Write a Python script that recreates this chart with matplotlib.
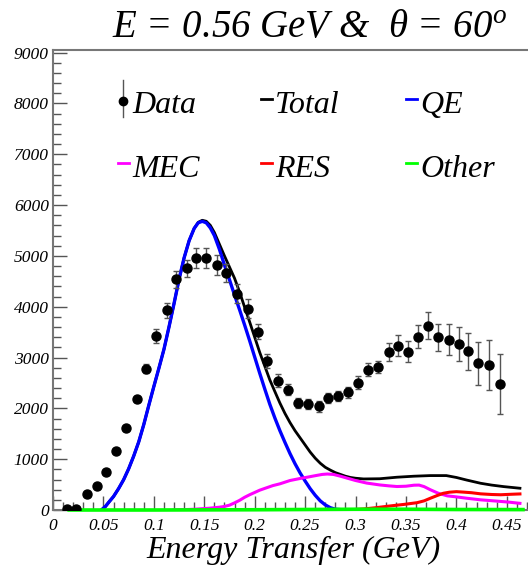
import matplotlib
matplotlib.use("Agg")
import matplotlib.pyplot as plt
from matplotlib.lines import Line2D
import numpy as np

# ---------------- data ----------------
data_x = [0.0136, 0.0228, 0.0334, 0.0434, 0.0526, 0.0625, 0.0724, 0.0830, 0.0923, 0.1020,
          0.1128, 0.1220, 0.1327, 0.1420, 0.1518, 0.1623, 0.1713, 0.1823, 0.1931, 0.2036,
          0.2126, 0.2229, 0.2327, 0.2425, 0.2533, 0.2633, 0.2731, 0.2824, 0.2923, 0.3029,
          0.3124, 0.3227, 0.3330, 0.3425, 0.3522, 0.3621, 0.3717, 0.3822, 0.3925, 0.4024,
          0.4117, 0.4216, 0.4322, 0.4431]
data_y = [20, 20, 310, 470, 750, 1160, 1608, 2180, 2775, 3425,
          3930, 4537, 4753, 4964, 4951, 4819, 4668, 4257, 3964, 3505,
          2926, 2547, 2367, 2104, 2091, 2038, 2203, 2235, 2318, 2505,
          2758, 2815, 3103, 3235, 3110, 3412, 3623, 3399, 3353, 3274,
          3122, 2886, 2854, 2479]
data_err = [10, 12, 25, 30, 35, 45, 50, 60, 89, 145,
            148, 164, 168, 197, 197, 195, 175, 180, 180, 150,
            140, 130, 108, 100, 100, 108, 100, 100, 110, 125,
            130, 120, 180, 200, 207, 230, 263, 263, 300, 335,
            360, 420, 490, 590]

qe_x = [0.048, 0.052, 0.056, 0.060, 0.065, 0.070, 0.075, 0.080, 0.085, 0.090, 0.095, 0.100,
        0.105, 0.110, 0.115, 0.120, 0.125, 0.130, 0.135, 0.140, 0.144, 0.148, 0.152, 0.156,
        0.160, 0.165, 0.170, 0.175, 0.180, 0.185, 0.190, 0.195, 0.200, 0.205, 0.210, 0.215,
        0.220, 0.225, 0.230, 0.235, 0.240, 0.245, 0.250, 0.255, 0.260, 0.265, 0.270, 0.275,
        0.280, 0.290, 0.300, 0.465]
qe_y = [0, 70, 170, 265, 420, 595, 810, 1060, 1340, 1680, 2060, 2430,
        2790, 3160, 3600, 4060, 4540, 4960, 5300, 5540, 5650, 5680, 5650, 5550,
        5400, 5130, 4820, 4530, 4230, 3940, 3640, 3330, 3010, 2690, 2380, 2080,
        1810, 1560, 1330, 1110, 910, 730, 570, 420, 290, 180, 100, 45,
        15, 0, 0, 0]

total_x = [0.048, 0.052, 0.056, 0.060, 0.065, 0.070, 0.075, 0.080, 0.085, 0.090, 0.095, 0.100,
           0.105, 0.110, 0.115, 0.120, 0.125, 0.130, 0.135, 0.140, 0.144, 0.148, 0.152, 0.156,
           0.160, 0.165, 0.170, 0.175, 0.180, 0.185, 0.190, 0.195, 0.200, 0.205, 0.210, 0.215,
           0.220, 0.225, 0.230, 0.235, 0.240, 0.245, 0.250, 0.255, 0.260, 0.265, 0.270, 0.275,
           0.280, 0.285, 0.290, 0.295, 0.300, 0.308, 0.324, 0.341, 0.358, 0.374, 0.390, 0.400,
           0.410, 0.424, 0.435, 0.447, 0.463]
total_y = [0, 70, 170, 265, 420, 595, 810, 1060, 1340, 1680, 2060, 2430,
           2790, 3160, 3600, 4060, 4540, 4960, 5300, 5540, 5660, 5700, 5680, 5600,
           5460, 5230, 5000, 4780, 4560, 4290, 3990, 3700, 3400, 3100, 2830, 2560,
           2330, 2104, 1900, 1720, 1560, 1420, 1280, 1140, 1020, 920, 840, 785,
           735, 700, 665, 640, 625, 611, 615, 645, 665, 677, 677, 640,
           590, 526, 490, 460, 428]

mec_x = [0.120, 0.140, 0.155, 0.165, 0.170, 0.175, 0.180, 0.185, 0.190, 0.195, 0.200, 0.205,
         0.210, 0.218, 0.225, 0.235, 0.245, 0.252, 0.260, 0.267, 0.272, 0.278, 0.285, 0.292,
         0.300, 0.311, 0.324, 0.333, 0.341, 0.350, 0.358, 0.363, 0.368, 0.374, 0.382, 0.391,
         0.400, 0.410, 0.424, 0.440, 0.452, 0.463]
mec_y = [0, 15, 35, 55, 70, 95, 140, 190, 250, 300, 345, 390,
         425, 480, 515, 580, 620, 645, 675, 700, 708, 700, 665, 625,
         580, 530, 493, 475, 462, 468, 488, 490, 460, 400, 330, 278,
         258, 232, 200, 175, 155, 131]

res_x = [0.280, 0.295, 0.308, 0.320, 0.334, 0.348, 0.361, 0.368, 0.374, 0.381, 0.387, 0.393,
         0.400, 0.407, 0.415, 0.424, 0.435, 0.444, 0.455, 0.463]
res_y = [0, 5, 20, 45, 79, 110, 144, 180, 230, 285, 329, 350,
         361, 352, 340, 318, 305, 300, 310, 316]

other_x = [0.016, 0.100, 0.200, 0.250, 0.300, 0.350, 0.400, 0.466]
other_y = [0, 0, 5, 10, 15, 15, 10, 8]

x_ticks = [0, 0.05, 0.1, 0.15, 0.2, 0.25, 0.3, 0.35, 0.4, 0.45]
x_ticklabels = ["0", "0.05", "0.1", "0.15", "0.2", "0.25", "0.3", "0.35", "0.4", "0.45"]
y_ticks = [0, 1000, 2000, 3000, 4000, 5000, 6000, 7000, 8000, 9000]
y_ticklabels = ["0", "1000", "2000", "3000", "4000", "5000", "6000", "7000", "8000", "9000"]

legend_labels = ["Data", "Total", "QE", "MEC", "RES", "Other"]
title_text = "E = 0.56 GeV &  \u03b8 = 60$^{o}$"
xlabel_text = "Energy Transfer (GeV)"

# ---------------- style ----------------
plt.rcParams['font.family'] = ['Liberation Serif', 'DejaVu Serif']
plt.rcParams['mathtext.fontset'] = 'custom'
plt.rcParams['mathtext.rm'] = 'Liberation Serif:italic'
plt.rcParams['mathtext.it'] = 'Liberation Serif:italic'
plt.rcParams['mathtext.bf'] = 'Liberation Serif:bold'

W, H = 528, 567
fig = plt.figure(figsize=(W / 100, H / 100), dpi=100)
ax = fig.add_axes([53 / W, 1 - 510 / H, 1 - 53 / W, (510 - 50) / H])

def fpx(x, y):
    return (x / W, 1 - y / H)

ax.plot(total_x, total_y, color='black', lw=2.0, zorder=3)
ax.plot(qe_x, qe_y, color='#0000ff', lw=2.4, zorder=3)
ax.plot(mec_x, mec_y, color='#ff00ff', lw=2.2, zorder=3)
ax.plot(res_x, res_y, color='#ff0000', lw=2.2, zorder=3)
ax.plot(other_x, other_y, color='#00ff00', lw=2.6, zorder=4, clip_on=False)

ax.errorbar(data_x, data_y, yerr=data_err, fmt='o', color='black', ms=6.5,
            ecolor='#555555', elinewidth=1.0, capsize=2.5, capthick=1.0, zorder=5)

ax.set_xlim(0, 0.471)
ax.set_ylim(0, 9050)
ax.set_xticks(x_ticks)
ax.set_xticklabels(x_ticklabels)
ax.set_yticks(y_ticks)
ax.set_yticklabels(y_ticklabels)
ax.set_xticks(np.arange(0, 0.4705, 0.01), minor=True)
ax.set_yticks(np.arange(0, 9001, 200), minor=True)

for lab in ax.get_xticklabels() + ax.get_yticklabels():
    lab.set_fontstyle('italic')
    lab.set_fontsize(12.5)

ax.tick_params(which='both', direction='in', color='#555555', top=False, right=False)
ax.tick_params(which='major', length=10, width=1.0)
ax.tick_params(which='minor', length=5.5, width=1.0)
ax.tick_params(axis='x', pad=6)
ax.tick_params(axis='y', pad=3)

ax.spines['right'].set_visible(False)
for s in ['left', 'bottom', 'top']:
    ax.spines[s].set_color('#777777')
    ax.spines[s].set_linewidth(1.5)

# x label
fig.text(*fpx(293, 558), xlabel_text, ha='center', va='baseline',
         fontsize=23, fontstyle='italic')

# title
fig.text(*fpx(112, 36.7), title_text, ha='left', va='baseline', fontsize=28,
         fontstyle='italic')

# legend (manual, ROOT-like)
leg_fs = 23
fig.add_artist(Line2D([122.5 / W, 122.5 / W], [1 - 80 / H, 1 - 117 / H], color='#555555', lw=1.0))
fig.add_artist(Line2D([122.5 / W], [1 - 101 / H], marker='o', color='black', ms=6))
entries = [
    (None, 132, 113, 0),
    ('black', 275, 113, 1),
    ('#0000ff', 420, 113, 2),
    ('#ff00ff', 132, 176.7, 3),
    ('#ff0000', 275, 176.7, 4),
    ('#00ff00', 420, 176.7, 5),
]
for col, tx, ty, i in entries:
    if col is not None:
        ly = ty - 14
        fig.add_artist(Line2D([(tx - 14) / W, (tx - 3) / W], [1 - ly / H, 1 - ly / H],
                              color=col, lw=2.0))
    fig.text(*fpx(tx, ty), legend_labels[i], ha='left', va='baseline',
             fontsize=leg_fs, fontstyle='italic')

fig.savefig('out.png', dpi=100)
